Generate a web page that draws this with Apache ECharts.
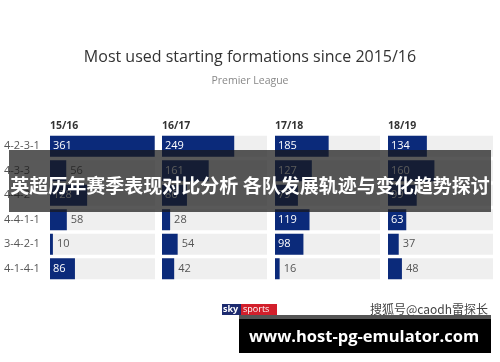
<!DOCTYPE html>
<html><head><meta charset="utf-8">
<script src="https://cdn.jsdelivr.net/npm/echarts@6/dist/echarts.min.js"></script>
<style>html,body{margin:0;padding:0;background:#fff}#c{width:500px;height:362px}</style>
</head><body><div id="c"></div>
<script>
const formations = ['4-2-3-1','4-3-3','4-4-2','4-4-1-1','3-4-2-1','4-1-4-1'];
const seasons = ['15/16','16/17','17/18','18/19'];
const s1516 = [361, 56, 128, 58, 10, 86];
const s1617 = [249, 161, 86, 28, 54, 42];
const s1718 = [185, 127, 79, 119, 98, 16];
const s1819 = [134, 160, 99, 63, 37, 48];
const seriesValues = [s1516, s1617, s1718, s1819];

const chart = echarts.init(document.getElementById('c'));
const lefts = [50, 162, 275, 388];
const FONT = '"Open Sans", "Noto Sans", sans-serif';
const grids = [], xAxes = [], yAxes = [], series = [];
seasons.forEach((s, i) => {
  grids.push({left: lefts[i], top: 134, width: 105, height: 147});
  xAxes.push({type: 'value', gridIndex: i, min: 0, max: 362, position: 'top',
    name: s, nameLocation: 'start', nameGap: 0,
    nameTextStyle: {align: 'left', verticalAlign: 'bottom', padding: [0,0,2,0], color: '#333', fontWeight: 'bold', fontSize: 10.5, fontFamily: FONT},
    axisLine: {show: false}, axisTick: {show: false}, axisLabel: {show: false}, splitLine: {show: false}});
  yAxes.push({type: 'category', gridIndex: i, data: formations, inverse: true,
    axisLine: {show: false}, axisTick: {show: false}, splitLine: {show: false},
    axisLabel: {show: i === 0, align: 'left', margin: 46, color: '#555', fontSize: 11, fontFamily: FONT}});
  series.push({type: 'bar', xAxisIndex: i, yAxisIndex: i, barWidth: 21,
    showBackground: true, backgroundStyle: {color: '#efefef'},
    itemStyle: {color: '#0b2a7a'},
    data: seriesValues[i].map(v => ({value: v, label: v >= 60
      ? {show: true, position: 'insideLeft', distance: 3, color: '#fff'}
      : {show: true, position: 'right', distance: 4, color: '#555'}})),
    label: {fontSize: 11, fontFamily: FONT}});
});

chart.setOption({
  animation: false,
  backgroundColor: '#fff',
  title: [
    {text: 'Most used starting formations since 2015/16', left: 'center', top: 44,
     textStyle: {fontSize: 16, fontWeight: 500, color: '#333', fontFamily: FONT}},
    {text: 'Premier League', left: 'center', top: 71,
     textStyle: {fontSize: 10.5, fontWeight: 'normal', color: '#888', fontFamily: FONT}}
  ],
  grid: grids, xAxis: xAxes, yAxis: yAxes, series: series,
  graphic: [
    {type: 'rect', z: 100, shape: {x: 9, y: 150, width: 482, height: 62}, style: {fill: 'rgba(25,25,25,0.72)'}},
    {type: 'text', z: 101, x: 250, y: 186, style: {text: '英超历年赛季表现对比分析 各队发展轨迹与变化趋势探讨', fill: '#fff',
      font: 'bold 19px "Noto Sans CJK SC", sans-serif', align: 'center', verticalAlign: 'middle'}},
    {type: 'rect', z: 100, shape: {x: 222, y: 304, width: 19, height: 11}, style: {fill: '#1c2a6e'}},
    {type: 'rect', z: 100, shape: {x: 241, y: 304, width: 36, height: 11}, style: {fill: '#d21f2b'}},
    {type: 'text', z: 101, x: 223, y: 309.5, style: {text: 'sky', fill: '#fff', font: 'bold 9px "Open Sans", sans-serif', verticalAlign: 'middle'}},
    {type: 'text', z: 101, x: 243, y: 309.5, style: {text: 'sports', fill: '#fff', font: '9px "Open Sans", sans-serif', verticalAlign: 'middle'}},
    {type: 'text', z: 101, x: 488, y: 309, style: {text: '搜狐号@caodh雷探长', fill: '#444', font: '12px "Noto Sans CJK SC", sans-serif', align: 'right', verticalAlign: 'middle'}},
    {type: 'rect', z: 100, shape: {x: 239, y: 315, width: 252, height: 38}, style: {fill: '#000'}},
    {type: 'rect', z: 100, shape: {x: 239, y: 315, width: 252, height: 4}, style: {fill: '#555'}},
    {type: 'text', z: 101, x: 364, y: 337, style: {text: 'www.host-pg-emulator.com', fill: '#fff', font: 'bold 16.5px "Open Sans", sans-serif', align: 'center', verticalAlign: 'middle'}}
  ]
});
</script></body></html>
